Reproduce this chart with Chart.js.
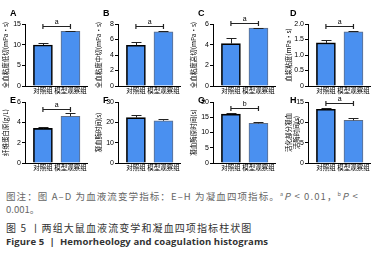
<!DOCTYPE html>
<html>
<head>
<meta charset="utf-8">
<script src="https://cdn.jsdelivr.net/npm/chart.js@4.4.0/dist/chart.umd.min.js"></script>
<style>
  body { margin: 0; width: 383px; height: 253px; background: #fff; position: relative; overflow: hidden; }
  .panel { position: absolute; width: 95px; }
  .tag { position: absolute; font: bold 9px "Liberation Sans", Arial, sans-serif; color: #000; }
  .cap { position: absolute; left: 6px; white-space: nowrap; font-family: "Noto Sans CJK SC", sans-serif; }
  #note { top: 188px; font-size: 9.5px; line-height: 13px; color: #666; letter-spacing: 1.1px; }
  #note2 { top: 203px; font-size: 9.5px; line-height: 13px; color: #666; }
  #figcn { top: 221px; font-size: 10px; line-height: 13px; color: #333; letter-spacing: 1.1px; }
  #figen { top: 236px; font: bold 9.5px "Open Sans", sans-serif; line-height: 12px; color: #333; letter-spacing: 0.1px; }
  sup { font-size: 5.5px; vertical-align: 4px; }
</style>
</head>
<body>
<div id="charts"></div>
<div class="cap" id="note">图注：图 A–D 为血液流变学指标：E–H 为凝血四项指标。<sup>a</sup><i>P</i> &lt; 0.01，<sup>b</sup><i>P</i> &lt;</div>
<div class="cap" id="note2">0.001。</div>
<div class="cap" id="figcn">图 5 丨两组大鼠血液流变学和凝血四项指标柱状图</div>
<div class="cap" id="figen">Figure 5 &nbsp;|&nbsp; Hemorheology and coagulation histograms</div>
<script>
// two groups, eight panels (A-H)
const groups = ['对照组', '模型观察组'];
const panelLetters = ['A', 'B', 'C', 'D', 'E', 'F', 'G', 'H'];
const yTitles = [
  '全血粘度低切(mPa·s)',
  '全血粘度中切(mPa·s)',
  '全血粘度高切(mPa·s)',
  '血浆粘度(mPa·s)',
  '纤维蛋白原(g/L)',
  '凝血酶时间(s)',
  '凝血酶原时间(s)',
  ['活化部分凝血', '活酶时间(s)']
];
const controlMeans = [9.9, 5.25, 4.1, 1.39, 3.4, 22.3, 16.0, 13.2];
const controlErr = [0.6, 0.45, 0.5, 0.1, 0.12, 1.4, 0.5, 0.4];
const modelMeans = [13.2, 7.0, 5.6, 1.75, 4.6, 20.8, 13.0, 10.5];
const modelErr = [0.1, 0.05, 0.05, 0.02, 0.27, 1.0, 0.3, 0.5];
const yMax = [15, 8, 6, 2, 6, 30, 20, 15];
const yStep = [5, 2, 2, 0.5, 2, 10, 5, 5];
const sigMarks = ['a', 'a', 'a', 'a', 'a', '', 'b', 'a'];

const barFill = 'rgb(74,144,240)';
const cjk = '"Noto Sans CJK SC", sans-serif';

const errorBars = {
  id: 'errorBars',
  afterDatasetsDraw(chart, args, opts) {
    const meta = chart.getDatasetMeta(0);
    const y = chart.scales.y;
    const ctx = chart.ctx;
    ctx.save();
    ctx.strokeStyle = '#222';
    ctx.lineWidth = 1;
    const tops = [];
    meta.data.forEach((bar, j) => {
      const v = opts.means[j] + opts.errs[j];
      tops.push(v);
      const py = Math.round(y.getPixelForValue(v)) + 0.5;
      const bx = Math.round(bar.x) + 0.5;
      ctx.beginPath();
      ctx.moveTo(bx, bar.y);
      ctx.lineTo(bx, py);
      ctx.moveTo(bx - 5, py);
      ctx.lineTo(bx + 5, py);
      ctx.stroke();
    });
    if (opts.mark) {
      const hi = Math.max(...tops) + 0.08 * y.max;
      const py = Math.round(y.getPixelForValue(hi)) + 0.5;
      const x1 = meta.data[0].x, x2 = meta.data[1].x;
      ctx.lineWidth = 1.2;
      ctx.beginPath();
      ctx.moveTo(x1, py); ctx.lineTo(x2, py);
      ctx.moveTo(x1, py - 2.5); ctx.lineTo(x1, py + 2.5);
      ctx.moveTo(x2, py - 2.5); ctx.lineTo(x2, py + 2.5);
      ctx.stroke();
      ctx.fillStyle = '#000';
      ctx.font = '7px "Liberation Sans", Arial, sans-serif';
      ctx.textAlign = 'center';
      ctx.textBaseline = 'bottom';
      ctx.fillText(opts.mark, (x1 + x2) / 2, py - 1);
    }
    ctx.restore();
  }
};

const lefts = [0, 93, 188, 283];
const holder = document.getElementById('charts');

panelLetters.forEach((letter, i) => {
  const col = i % 4, row = Math.floor(i / 4);
  const top = row ? 92 : 0;
  const h = row ? 82 : 96;
  const div = document.createElement('div');
  div.className = 'panel';
  div.style.left = lefts[col] + 'px';
  div.style.top = top + 'px';
  div.style.height = h + 'px';
  const cv = document.createElement('canvas');
  cv.width = 95; cv.height = h;
  div.appendChild(cv);
  holder.appendChild(div);

  const tag = document.createElement('div');
  tag.className = 'tag';
  tag.textContent = letter;
  tag.style.left = (lefts[col] + (col === 3 ? 7 : 10)) + 'px';
  tag.style.top = (row ? 95 : 8) + 'px';
  document.body.appendChild(tag);

  new Chart(cv, {
    type: 'bar',
    data: {
      datasets: [{
        data: [{ x: 1, y: controlMeans[i] }, { x: 2, y: modelMeans[i] }],
        backgroundColor: barFill,
        borderColor: ['#000', 'rgb(95,110,135)'],
        borderWidth: [1.6, 1],
        barThickness: 19
      }]
    },
    options: {
      responsive: false,
      animation: false,
      layout: { padding: { left: 2, right: 8, top: row ? 10 : 24, bottom: 0 } },
      plugins: {
        legend: { display: false },
        tooltip: { enabled: false },
        errorBars: { means: [controlMeans[i], modelMeans[i]], errs: [controlErr[i], modelErr[i]], mark: sigMarks[i] }
      },
      scales: {
        x: {
          type: 'linear',
          offset: false,
          min: 0.35,
          max: 2.6,
          grid: { display: false, drawTicks: false, tickLength: 0 },
          border: { display: true, color: '#000', width: 1 },
          afterBuildTicks(scale) { scale.ticks = [{ value: 1 }, { value: 2 }]; },
          afterFit(scale) { scale.height = row ? 11 : 10; },
          ticks: {
            autoSkip: false, maxRotation: 0, padding: 1, color: '#000',
            font: { family: cjk, size: 6.5 },
            callback: (v) => groups[v - 1]
          }
        },
        y: {
          min: 0,
          max: yMax[i],
          afterFit(scale) { scale.width = 23; },
          grid: { display: true, drawOnChartArea: false, tickLength: 3, color: '#000' },
          border: { display: true, color: '#000', width: 1 },
          ticks: {
            stepSize: yStep[i], padding: 1, color: '#000',
            font: { family: '"Liberation Sans", Arial, sans-serif', size: 7 },
            callback: (v) => (yStep[i] < 1 && v !== 0 ? v.toFixed(1) : v)
          },
          title: {
            display: true, text: yTitles[i], color: '#000', padding: 0,
            font: { family: cjk, size: 6.5 }
          }
        }
      }
    },
    plugins: [errorBars]
  });
});
</script>
</body>
</html>
